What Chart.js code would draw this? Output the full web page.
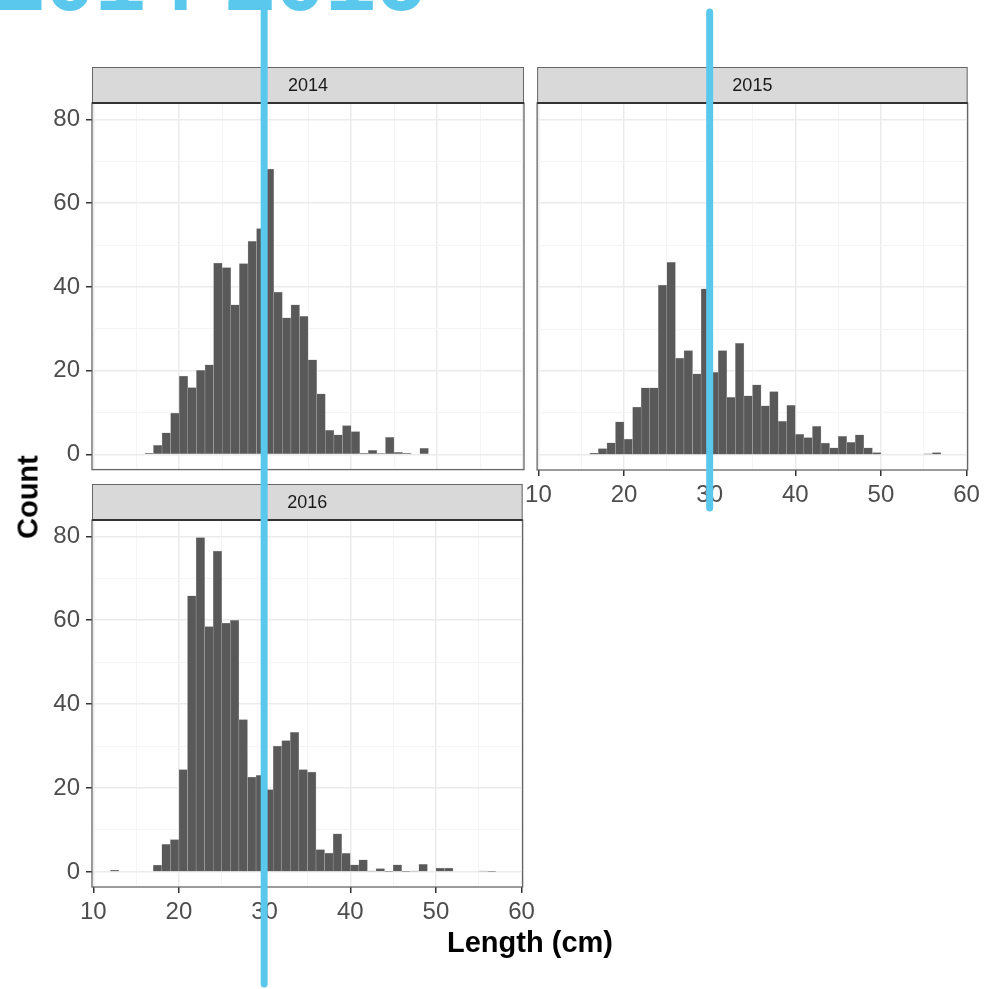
<!DOCTYPE html>
<html lang="en">
<head>
<meta charset="utf-8"/>
<title>Length distribution 2014-2016</title>
<script src="https://cdn.jsdelivr.net/npm/chart.js"></script>
<style>
  body { margin: 0; background: #fff; font-family: "Liberation Sans", Arial, sans-serif; }
  #wrap { position: relative; width: 985px; height: 989px; overflow: hidden; }
  #wrap canvas { position: absolute; }
  .axis-title { position: absolute; font-weight: bold; font-size: 29px; color: #000; white-space: nowrap; }
</style>
</head>
<body>
<div id="wrap">
  <canvas id="p2014" width="540" height="430" style="left:0;top:60px"></canvas>
  <canvas id="p2015" width="465" height="470" style="left:520px;top:60px"></canvas>
  <canvas id="p2016" width="540" height="512" style="left:0;top:477px"></canvas>
  <div class="axis-title" style="left:28px;top:497px;transform:translate(-50%,-50%) rotate(-90deg)">Count</div>
  <div class="axis-title" style="left:530px;top:942px;transform:translate(-50%,-50%)">Length (cm)</div>
  <canvas id="overlay" width="985" height="989" style="left:0;top:0;pointer-events:none"></canvas>
</div>

<script>
// lower edge of each 1 cm length bin
const lengthBins = [12, 13, 14, 15, 16, 17, 18, 19, 20, 21, 22, 23, 24, 25, 26, 27, 28, 29, 30, 31, 32, 33, 34,
                    35, 36, 37, 38, 39, 40, 41, 42, 43, 44, 45, 46, 47, 48, 49, 50, 51, 52, 53, 54, 55, 56, 57];

const counts2014 = [0, 0, 0, 0, 0.3, 2.2, 5.2, 9.9, 18.7, 16.0, 20.1, 21.4, 45.7, 44.6, 35.7, 45.6, 50.9, 53.9, 68.1, 38.8, 32.6, 35.7, 33.0,
                    22.6, 14.5, 5.8, 4.7, 6.9, 5.5, 0.3, 1.0, 0.25, 4.1, 0.55, 0.3, 0, 1.5, 0, 0, 0, 0, 0, 0, 0, 0, 0];
const counts2015 = [0, 0, 0, 0, 0.4, 1.5, 2.9, 7.9, 3.8, 11.4, 16.0, 16.0, 40.5, 45.9, 23.1, 24.9, 19.3, 39.6, 19.7, 24.9, 13.7, 26.6, 14.1,
                    16.7, 11.7, 15.1, 8.0, 11.8, 4.9, 4.1, 6.8, 2.8, 1.7, 4.4, 3.0, 4.8, 1.7, 0.55, 0, 0, 0, 0, 0, 0.25, 0.55, 0];
const counts2016 = [0.4, 0, 0, 0, 0, 1.6, 6.6, 7.7, 24.4, 65.8, 79.7, 58.5, 76.5, 59.3, 60.0, 36.3, 22.6, 23.0, 19.6, 30.0, 31.3, 33.3, 24.4,
                    23.8, 5.3, 4.5, 9.1, 4.4, 1.7, 2.9, 0.2, 0.8, 0.1, 1.7, 0.1, 0.2, 1.8, 0, 0.9, 0.9, 0, 0, 0, 0.2, 0.1, 0];

const xTicks = [10, 15, 20, 25, 30, 35, 40, 45, 50, 55, 60];
const yTicks = [0, 10, 20, 30, 40, 50, 60, 70, 80];
const markLength = 30; // blue marker lines at 30 cm

const STRIP_H = 36;
const tickFont = { family: '"Liberation Sans", Arial, sans-serif', size: 24 };

const stripPlugin = {
  id: 'strip',
  afterDraw(chart, args, opts) {
    const a = chart.chartArea, ctx = chart.ctx;
    ctx.save();
    ctx.fillStyle = '#d9d9d9';
    ctx.fillRect(a.left, a.top - STRIP_H, a.right - a.left, STRIP_H);
    ctx.strokeStyle = '#666';
    ctx.lineWidth = 1;
    ctx.strokeRect(a.left + 0.5, a.top - STRIP_H + 0.5, a.right - a.left - 1, STRIP_H);
    ctx.fillStyle = '#1a1a1a';
    ctx.font = '18px "Liberation Sans", Arial, sans-serif';
    ctx.textAlign = 'center';
    ctx.textBaseline = 'middle';
    ctx.fillText(opts.label, (a.left + a.right) / 2, a.top - STRIP_H / 2 + 1);
    // panel border
    ctx.strokeStyle = '#666';
    ctx.lineWidth = 1.3;
    ctx.strokeRect(a.left, a.top, a.right - a.left, a.bottom - a.top);
    ctx.strokeStyle = '#333';
    ctx.lineWidth = 2;
    ctx.beginPath();
    ctx.moveTo(a.left, a.top);
    ctx.lineTo(a.right, a.top);
    ctx.stroke();
    ctx.restore();
  }
};

function gridColor(ctx) {
  return ctx.tick && ctx.tick.value % 20 === 0 ? '#ebebeb' : '#f4f4f4';
}

function makePanel(id, label, counts, cfg) {
  return new Chart(document.getElementById(id), {
    type: 'bar',
    data: {
      datasets: [{
        data: lengthBins.map((b, i) => ({ x: b + 0.5, y: counts[i] })),
        backgroundColor: '#595959',
        borderColor: '#b3b3b3',
        borderWidth: 0.5,
        barPercentage: 1,
        categoryPercentage: 1
      }]
    },
    options: {
      responsive: false,
      animation: false,
      events: [],
      layout: { padding: cfg.padding },
      plugins: { legend: { display: false }, tooltip: { enabled: false }, strip: { label: label } },
      scales: {
        x: {
          type: 'linear', min: 9.85, max: 60.12, offset: false,
          afterBuildTicks: s => { s.ticks = xTicks.map(v => ({ value: v })); },
          afterFit: s => { s.height = cfg.xHeight; },
          ticks: { display: cfg.showX, font: tickFont, color: '#4d4d4d', padding: 5, maxRotation: 0, autoSkip: false,
                   callback: v => (v % 10 === 0 ? String(v) : '') },
          grid: { offset: false, color: ctx => (ctx.tick && ctx.tick.value % 10 === 0 ? '#ebebeb' : '#f4f4f4'),
                  lineWidth: ctx => (ctx.tick && ctx.tick.value % 10 === 0 ? 1.5 : 1),
                  drawTicks: cfg.showX, tickLength: 6, tickWidth: 1.5,
                  tickColor: ctx => (ctx.tick && ctx.tick.value % 10 === 0 ? '#333' : 'rgba(0,0,0,0)') },
          border: { display: false }
        },
        y: {
          min: -3.6, max: 83.9,
          afterBuildTicks: s => { s.ticks = yTicks.map(v => ({ value: v })); },
          afterFit: s => { s.width = cfg.yWidth; },
          ticks: { display: cfg.showY, font: tickFont, color: '#4d4d4d', padding: 6,
                   callback: v => (v % 20 === 0 ? String(v) : '') },
          grid: { color: gridColor,
                  lineWidth: ctx => (ctx.tick && ctx.tick.value % 20 === 0 ? 1.5 : 1),
                  drawTicks: cfg.showY, tickLength: 6, tickWidth: 1.5,
                  tickColor: ctx => (ctx.tick && ctx.tick.value % 20 === 0 ? '#333' : 'rgba(0,0,0,0)') },
          border: { display: false }
        }
      }
    },
    plugins: [stripPlugin]
  });
}

const c2014 = makePanel('p2014', '2014', counts2014,
  { padding: { top: 43, right: 16, bottom: 0, left: 0 }, xHeight: 0, yWidth: 92, showX: false, showY: true });
const c2015 = makePanel('p2015', '2015', counts2015,
  { padding: { top: 43, right: 17, bottom: 0, left: 17 }, xHeight: 60, yWidth: 0, showX: true, showY: false });
const c2016 = makePanel('p2016', '2016', counts2016,
  { padding: { top: 43, right: 16, bottom: 0, left: 0 }, xHeight: 102, yWidth: 92, showX: true, showY: true });

// overlay: title text and the two blue marker lines
const ov = document.getElementById('overlay').getContext('2d');
ov.fillStyle = '#5ac8ec';
ov.font = 'bold 90px "Liberation Sans", Arial, sans-serif';
ov.textBaseline = 'alphabetic';
ov.fillText('2014-2016', -5, 10);

ov.strokeStyle = '#5ac8ec';
ov.lineWidth = 7;
ov.lineCap = 'round';
const x1 = c2014.scales.x.getPixelForValue(markLength) - 1;
ov.beginPath(); ov.moveTo(x1, -10); ov.lineTo(x1, 984); ov.stroke();
const x2 = 520 + c2015.scales.x.getPixelForValue(markLength);
ov.beginPath(); ov.moveTo(x2, 12); ov.lineTo(x2, 508); ov.stroke();
</script>
</body>
</html>
